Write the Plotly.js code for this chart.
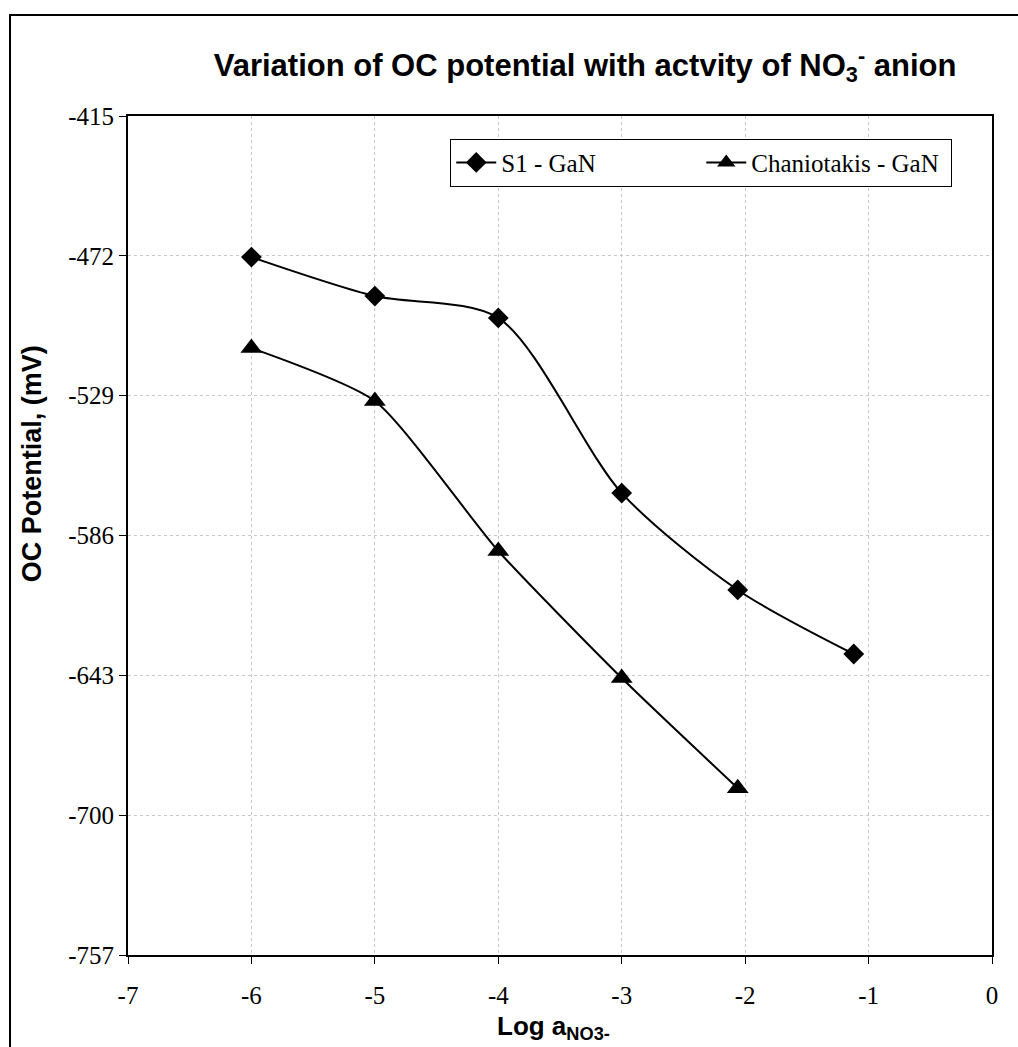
<!DOCTYPE html>
<html>
<head>
<meta charset="utf-8">
<script src="https://cdn.plot.ly/plotly-3.0.1.min.js"></script>
<style>
  html, body { margin: 0; padding: 0; background: #fff; }
  #wrap { position: relative; width: 1018px; height: 1047px; overflow: hidden; }
  #chart { position: absolute; left: 0; top: 0; width: 1018px; height: 1047px; }
  #frame { position: absolute; left: 9px; top: 14px; width: 1030px; height: 1060px;
           border-left: 2px solid #000; border-top: 2px solid #000; pointer-events: none; }
</style>
</head>
<body>
<div id="wrap">
  <div id="chart"></div>
  <div id="frame"></div>
</div>
<script>
const s1Name = "S1 - GaN";
const s1X = [-6, -5, -4, -3, -2.06, -1.12];
const s1Y = [-472.5, -488.4, -497.3, -568.7, -608.2, -634.3];

const chName = "Chaniotakis - GaN";
const chX = [-6, -5, -4, -3, -2.06];
const chY = [-509.6, -531.2, -592.3, -644.1, -689.0];

const yTicks = [-415, -472, -529, -586, -643, -700, -757];
const xTicks = [-7, -6, -5, -4, -3, -2, -1, 0];

const titleText = "<b>Variation of OC potential with actvity of NO<sub>3</sub><sup>-</sup> anion</b>";
const xTitleText = "<b>Log a<sub>NO3-</sub></b>";
const yTitleText = "<b>OC Potential, (mV)</b>";

const serif = "Liberation Serif, Times New Roman, serif";
const sans = "Liberation Sans, Arial, sans-serif";

const traces = [
  {
    x: s1X, y: s1Y, name: s1Name, type: "scatter", mode: "lines+markers",
    line: { color: "#000", width: 2, shape: "spline", smoothing: 0.8 },
    marker: { symbol: "diamond", size: 16, color: "#000" }
  },
  {
    x: chX, y: chY, name: chName, type: "scatter", mode: "lines+markers",
    line: { color: "#000", width: 2, shape: "spline", smoothing: 0.6 },
    marker: { symbol: "triangle-up", size: 19, color: "#000" }
  }
];

const layout = {
  width: 1018, height: 1047,
  margin: { l: 128, r: 26, t: 116, b: 92 },
  paper_bgcolor: "rgba(0,0,0,0)",
  plot_bgcolor: "#fff",
  showlegend: true,
  title: {
    text: titleText,
    font: { family: sans, size: 31, color: "#000" },
    x: 0.529, xanchor: "center", xref: "paper", y: 0.938, yanchor: "middle"
  },
  xaxis: {
    range: [-7, 0], tickvals: xTicks, ticktext: xTicks.map(String),
    showgrid: true, gridcolor: "#c8c8c8", griddash: "dot", gridwidth: 1,
    zeroline: false, showline: true, linecolor: "#000", linewidth: 2, mirror: true,
    ticks: "outside", ticklen: 7, tickcolor: "#000", tickwidth: 1,
    ticklabelstandoff: 10,
    tickfont: { family: serif, size: 25, color: "#000" }
  },
  yaxis: {
    range: [-757, -415], tickvals: yTicks, ticktext: yTicks.map(String),
    showgrid: true, gridcolor: "#c8c8c8", griddash: "dot", gridwidth: 1,
    zeroline: false, showline: true, linecolor: "#000", linewidth: 2, mirror: true,
    ticks: "outside", ticklen: 7, tickcolor: "#000", tickwidth: 1,
    tickfont: { family: serif, size: 25, color: "#000" }
  },
  annotations: [
    {
      text: xTitleText, xref: "paper", yref: "paper", x: 0.493, y: -0.086,
      xanchor: "center", yanchor: "middle", showarrow: false,
      font: { family: sans, size: 26, color: "#000" }
    },
    {
      text: yTitleText, xref: "paper", yref: "paper", x: -0.111, y: 0.585,
      xanchor: "center", yanchor: "middle", showarrow: false, textangle: -90,
      font: { family: sans, size: 27, color: "#000" }
    }
  ],
  legend: {
    orientation: "h", x: 0.954, xanchor: "right", y: 0.973, yanchor: "top",
    bgcolor: "#fff", bordercolor: "#000", borderwidth: 1,
    font: { family: serif, size: 25, color: "#000" },
    itemwidth: 40, traceorder: "normal", entrywidth: 195, entrywidthmode: "pixels"
  }
};

Plotly.newPlot("chart", traces, layout, { displayModeBar: false, staticPlot: true });
</script>
</body>
</html>
